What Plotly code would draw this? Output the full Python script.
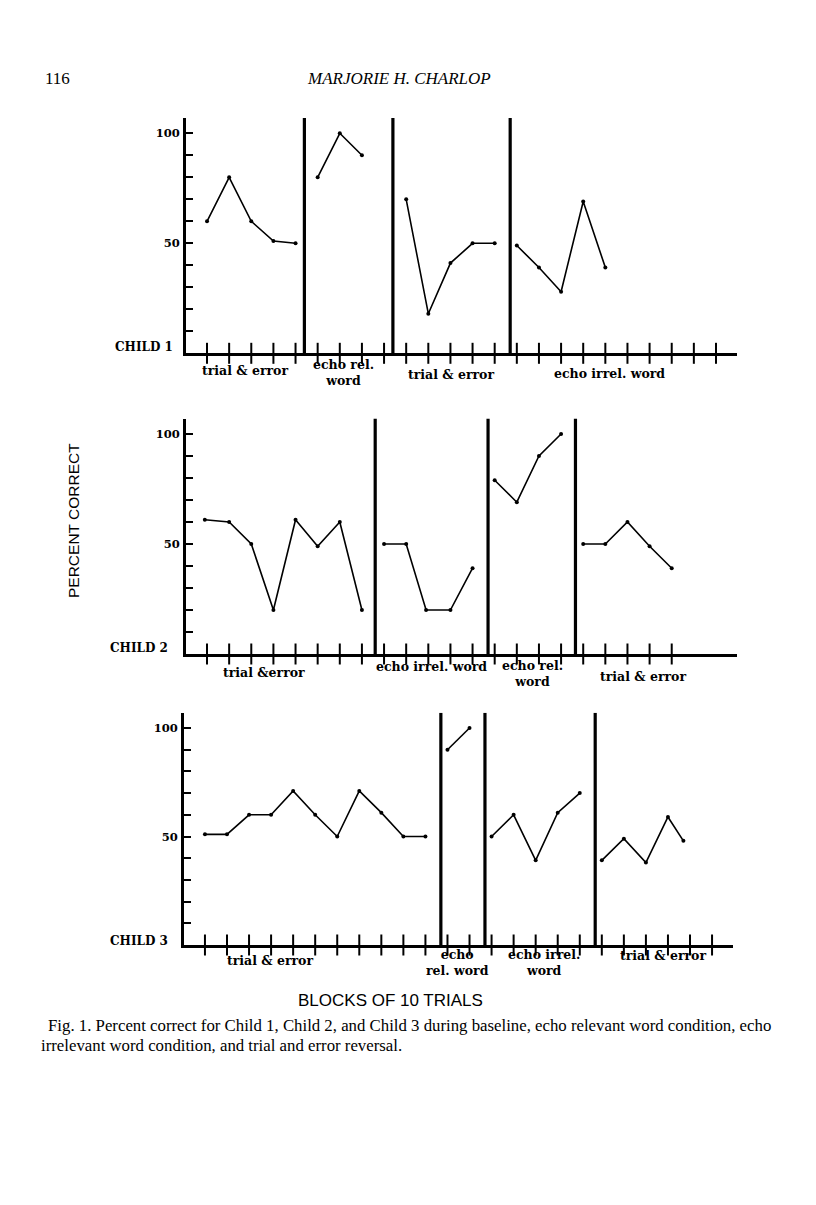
import plotly.graph_objects as go

PAGE_W, PAGE_H = 816, 1205
OFF = 8  # default page margin around the plot
W, H = PAGE_W - OFF, PAGE_H - OFF

# ---------------- data ----------------
# Child 1
c1_blocks = list(range(1, 25))
c1_phase_lines = [5.4, 9.4, 14.7]
c1_te1_x = [1, 2, 3, 4, 5]
c1_te1_y = [60, 80, 60, 51, 50]
c1_erw_x = [6, 7, 8]
c1_erw_y = [80, 100, 90]
c1_te2_x = [10, 11, 12, 13, 14]
c1_te2_y = [70, 18, 41, 50, 50]
c1_eiw_x = [15, 16, 17, 18, 19]
c1_eiw_y = [49, 39, 28, 69, 39]

# Child 2
c2_blocks = list(range(1, 23))
c2_phase_lines = [8.6, 13.7, 17.65]
c2_te1_x = [0.9, 2, 3, 4, 5, 6, 7, 8]
c2_te1_y = [61, 60, 50, 20, 61, 49, 60, 20]
c2_eiw_x = [9, 10, 10.9, 12, 13]
c2_eiw_y = [50, 50, 20, 20, 39]
c2_erw_x = [14, 15, 16, 17]
c2_erw_y = [79, 69, 90, 100]
c2_te2_x = [18, 19, 20, 21, 22]
c2_te2_y = [50, 50, 60, 49, 39]

# Child 3
c3_blocks = list(range(1, 25))
c3_phase_lines = [11.7, 13.7, 18.7]
c3_te1_x = [1, 2, 3, 4, 5, 6, 7, 8, 9, 10, 11]
c3_te1_y = [51, 51, 60, 60, 71, 60, 50, 71, 61, 50, 50]
c3_erw_x = [12, 13]
c3_erw_y = [90, 100]
c3_eiw_x = [14, 15, 16, 17, 18]
c3_eiw_y = [50, 60, 39, 61, 70]
c3_te2_x = [19, 20, 21, 22, 22.7]
c3_te2_y = [39, 49, 38, 59, 48]

y_tick_vals = [10, 20, 30, 40, 50, 60, 70, 80, 90, 100]
y_tick_text = ["", "", "", "", "50", "", "", "", "", "100"]
Y_TOP = 107

children = [
    dict(blocks=c1_blocks, lines=c1_phase_lines,
         series=[(c1_te1_x, c1_te1_y), (c1_erw_x, c1_erw_y), (c1_te2_x, c1_te2_y), (c1_eiw_x, c1_eiw_y)]),
    dict(blocks=c2_blocks, lines=c2_phase_lines,
         series=[(c2_te1_x, c2_te1_y), (c2_eiw_x, c2_eiw_y), (c2_erw_x, c2_erw_y), (c2_te2_x, c2_te2_y)]),
    dict(blocks=c3_blocks, lines=c3_phase_lines,
         series=[(c3_te1_x, c3_te1_y), (c3_erw_x, c3_erw_y), (c3_eiw_x, c3_eiw_y), (c3_te2_x, c3_te2_y)]),
]

# panel geometry in page pixels: (x_left, x_right, y_zero, px_per_unit)
panels = [
    (186, 737, 353.3, 2.2),
    (186, 737, 654.0, 2.2),
    (184, 733, 945.0, 2.17),
]

def px(x):
    return (x - OFF) / W

def py(y):
    return 1 - (y - OFF) / H

fig = go.Figure()
TICK_F = dict(family="DejaVu Serif", size=11.5, color="black", weight="bold")
LAB_F = dict(family="DejaVu Serif", size=12.5, color="black", weight="bold")
CHILD_F = dict(family="DejaVu Serif", size=12, color="black", weight="bold")

for i, (ch, (xl, xr, y0, s)) in enumerate(zip(children, panels)):
    n = "" if i == 0 else str(i + 1)
    xa, ya = "x" + n, "y" + n
    for sx, sy in ch["series"]:
        fig.add_trace(go.Scatter(x=sx, y=sy, xaxis=xa, yaxis=ya, mode="lines+markers",
                                 line=dict(color="black", width=1.6),
                                 marker=dict(color="black", size=4),
                                 showlegend=False, cliponaxis=False))
    for lx in ch["lines"]:
        fig.add_trace(go.Scatter(x=[lx, lx], y=[0, Y_TOP], xaxis=xa, yaxis=ya, mode="lines",
                                 line=dict(color="black", width=3.2),
                                 showlegend=False, cliponaxis=False))
    fig.add_trace(go.Scatter(x=ch["blocks"], y=[0] * len(ch["blocks"]), xaxis=xa, yaxis=ya,
                             mode="markers",
                             marker=dict(symbol="line-ns", size=15,
                                         line=dict(color="black", width=2)),
                             showlegend=False, cliponaxis=False))
    ybot = py(y0)
    ytop = py(y0 - Y_TOP * s)
    fig.layout["xaxis" + n] = dict(domain=[px(xl), px(xr)], range=[0.05, 24.95], anchor=ya,
                                   showline=True, linewidth=3, linecolor="black",
                                   showgrid=False, zeroline=False, showticklabels=False,
                                   ticks="", fixedrange=True)
    fig.layout["yaxis" + n] = dict(domain=[ybot, ytop], range=[0, Y_TOP], anchor=xa,
                                   showline=True, linewidth=3, linecolor="black",
                                   showgrid=False, zeroline=False,
                                   tickvals=y_tick_vals, ticktext=y_tick_text,
                                   ticks="inside", ticklen=7, tickwidth=2, tickcolor="black",
                                   tickfont=TICK_F, ticklabelstandoff=1, fixedrange=True)

annotations = []

def ann(text, x, y, font, xanchor="center", yanchor="middle", align="center", textangle=0):
    annotations.append(dict(text=text, x=px(x), y=py(y), xref="paper", yref="paper",
                            showarrow=False, font=font, xanchor=xanchor, yanchor=yanchor,
                            align=align, textangle=textangle, borderpad=0))

# header
ann("116", 44, 79, dict(family="Liberation Serif", size=17, color="black"), xanchor="left")
ann("<i>MARJORIE H. CHARLOP</i>", 399, 79, dict(family="Liberation Serif", size=17, color="black"))

# child labels
ann("CHILD 1", 114, 347, CHILD_F, xanchor="left")
ann("CHILD 2", 109, 648, CHILD_F, xanchor="left")
ann("CHILD 3", 109, 941, CHILD_F, xanchor="left")

# condition labels
ann("trial &amp; error", 245, 370, LAB_F)
ann("echo rel.<br>word", 343, 372, LAB_F)
ann("trial &amp; error", 451, 375, LAB_F)
ann("echo irrel. word", 609, 373, LAB_F)

ann("trial &amp;error", 264, 672, LAB_F)
ann("echo irrel. word", 431, 666, LAB_F)
ann("echo rel.<br>word", 532, 673, LAB_F)
ann("trial &amp; error", 643, 676, LAB_F)

ann("trial &amp; error", 270, 960, LAB_F)
ann("echo<br>rel. word", 457, 962, LAB_F)
ann("echo irrel.<br>word", 544, 962, LAB_F)
ann("trial &amp; error", 663, 955, LAB_F)

# axis titles
ann("PERCENT CORRECT", 73, 521, dict(family="Liberation Sans", size=15.5, color="black"), textangle=-90)
ann("BLOCKS OF 10 TRIALS", 390, 1000, dict(family="Liberation Sans", size=17, color="black"))

# caption
CAP = dict(family="Liberation Serif", size=16.8, color="black")
ann("Fig. 1. Percent correct for Child 1, Child 2, and Child 3 during baseline, echo relevant word condition, echo",
    47, 1025, CAP, xanchor="left")
ann("irrelevant word condition, and trial and error reversal.", 40, 1045, CAP, xanchor="left")

fig.update_layout(width=W, height=H, margin=dict(l=0, r=0, t=0, b=0),
                  paper_bgcolor="white", plot_bgcolor="white",
                  annotations=annotations, showlegend=False)

fig.write_html("out.html")
